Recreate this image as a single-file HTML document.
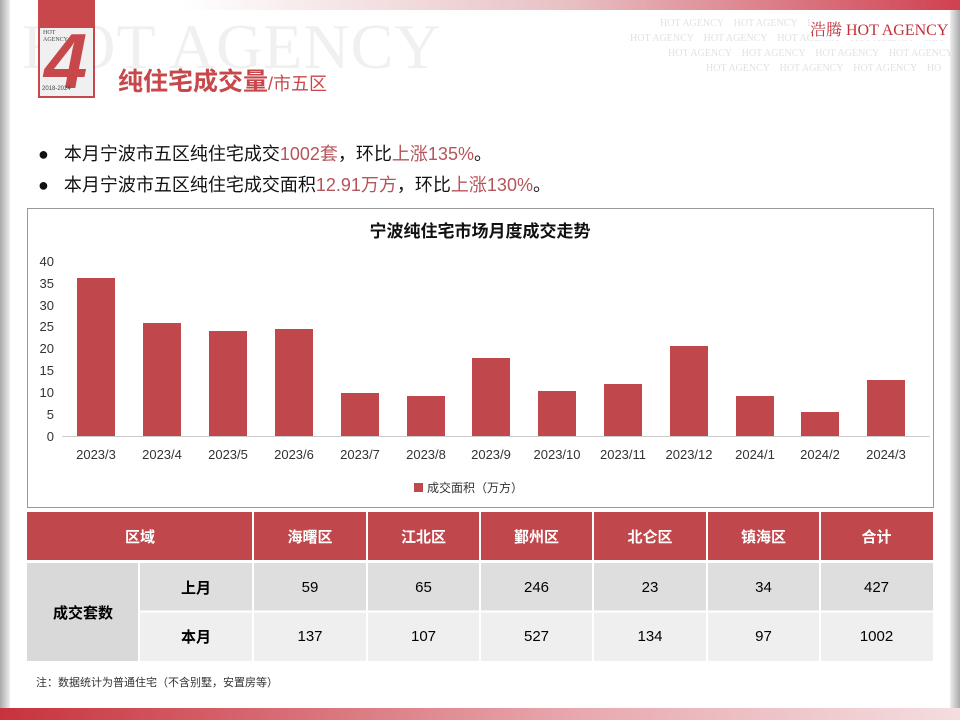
<!DOCTYPE html>
<html><head><meta charset="utf-8"><style>
body{margin:0;width:960px;height:720px;position:relative;overflow:hidden;background:#fff;font-family:"Liberation Sans","Noto Sans CJK SC",sans-serif}
.abs{position:absolute}
.cell{position:absolute;display:flex;align-items:center;justify-content:center;font-size:15px}
</style></head><body>
<div class="abs" style="left:0;top:0;width:10px;height:720px;background:linear-gradient(90deg,#aaa,#eee)"></div>
<div class="abs" style="left:950px;top:0;width:10px;height:720px;background:linear-gradient(90deg,#eee,#aaa)"></div>
<div class="abs" style="left:180px;top:0;width:780px;height:10px;background:linear-gradient(90deg,#fff,#e8c0c4 50%,#d04050)"></div>
<div class="abs" style="left:0;top:708px;width:960px;height:12px;background:linear-gradient(90deg,#c8323c,#e8a8ae 60%,#f4dde0)"></div>
<div class="abs" style="left:22px;top:10px;font-family:'Liberation Serif',serif;font-size:64px;color:#f0f0f0;letter-spacing:1px">HOT AGENCY</div>
<div class="abs" style="left:620px;top:16px;width:330px;height:70px;overflow:hidden;font-family:'Liberation Serif',serif;font-size:10px;color:#e2e2e2;line-height:15px;white-space:nowrap">
<div style="padding-left:40px">HOT AGENCY &nbsp;&nbsp; HOT AGENCY &nbsp;&nbsp; HOT AGENCY &nbsp;&nbsp; HOT AGENCY</div>
<div style="padding-left:10px">HOT AGENCY &nbsp;&nbsp; HOT AGENCY &nbsp;&nbsp; HOT AGENCY &nbsp;&nbsp; HOT AGENCY &nbsp;&nbsp; HOT</div>
<div style="padding-left:48px">HOT AGENCY &nbsp;&nbsp; HOT AGENCY &nbsp;&nbsp; HOT AGENCY &nbsp;&nbsp; HOT AGENCY</div>
<div style="padding-left:86px">HOT AGENCY &nbsp;&nbsp; HOT AGENCY &nbsp;&nbsp; HOT AGENCY &nbsp;&nbsp; HO</div></div>
<div class="abs" style="left:810px;top:17px;font-family:'Liberation Serif','Noto Serif CJK SC',serif;font-size:16px;color:#c0303a;background:#fff">浩腾 HOT AGENCY</div>
<div class="abs" style="left:38px;top:0;width:57px;height:98px;background:#c8474b"></div>
<div class="abs" style="left:40px;top:28px;width:53px;height:68px;background:#f0f0f0"></div>
<div class="abs" style="left:43px;top:30px;font-size:6px;line-height:7px;color:#444;font-family:'Liberation Serif',serif">HOT<br>AGENCY</div>
<div class="abs" style="left:44px;top:22px;font-size:78px;font-weight:bold;font-style:italic;color:#c8474b;line-height:78px">4</div>
<div class="abs" style="left:42px;top:86px;font-size:6px;color:#444">2018-2024</div>
<div class="abs" style="left:118px;top:62px;font-size:25px;font-weight:bold;color:#c8474b">纯住宅成交量<span style="font-size:18px;font-weight:normal;color:#c8474b">/市五区</span></div>
<div class="abs" style="left:38px;top:139px;font-size:18px;color:#111;line-height:31px">
<div>●&nbsp;&nbsp; 本月宁波市五区纯住宅成交<span style="color:#b5545a">1002套</span>，环比<span style="color:#b5545a">上涨135%</span>。</div>
<div>●&nbsp;&nbsp; 本月宁波市五区纯住宅成交面积<span style="color:#b5545a">12.91万方</span>，环比<span style="color:#b5545a">上涨130%</span>。</div></div>
<svg class="abs" style="left:0;top:0" width="960" height="720">
<rect x="27.5" y="208.5" width="906" height="299" fill="#fff" stroke="#999"/>
<text x="480" y="237" text-anchor="middle" font-size="17" font-weight="bold" fill="#111">宁波纯住宅市场月度成交走势</text>
<g font-size="13" fill="#333" text-anchor="end">
<text x="54" y="441">0</text><text x="54" y="419">5</text><text x="54" y="397">10</text><text x="54" y="375">15</text><text x="54" y="353">20</text><text x="54" y="331">25</text><text x="54" y="310">30</text><text x="54" y="288">35</text><text x="54" y="266">40</text></g>
<line x1="62" y1="436.5" x2="930" y2="436.5" stroke="#ccc"/>
<g fill="#c0474b">
<rect x="77" y="278" width="38" height="158"/><rect x="143" y="323" width="38" height="113"/><rect x="209" y="331" width="38" height="105"/><rect x="275" y="329" width="38" height="107"/><rect x="341" y="393" width="38" height="43"/><rect x="407" y="396" width="38" height="40"/><rect x="472" y="358" width="38" height="78"/><rect x="538" y="391" width="38" height="45"/><rect x="604" y="384" width="38" height="52"/><rect x="670" y="346" width="38" height="90"/><rect x="736" y="396" width="38" height="40"/><rect x="801" y="412" width="38" height="24"/><rect x="867" y="380" width="38" height="56"/></g>
<g font-size="13" fill="#333" text-anchor="middle">
<text x="96" y="459">2023/3</text><text x="162" y="459">2023/4</text><text x="228" y="459">2023/5</text><text x="294" y="459">2023/6</text><text x="360" y="459">2023/7</text><text x="426" y="459">2023/8</text><text x="491" y="459">2023/9</text><text x="557" y="459">2023/10</text><text x="623" y="459">2023/11</text><text x="689" y="459">2023/12</text><text x="755" y="459">2024/1</text><text x="820" y="459">2024/2</text><text x="886" y="459">2024/3</text></g>
<rect x="414" y="483" width="9" height="9" fill="#c0474b"/>
<text x="427" y="492" font-size="12" fill="#333">成交面积（万方）</text>
</svg>
<div class="abs" style="left:27px;top:512px;width:906px;height:48px;background:#c0474b"></div>
<div class="abs" style="left:27px;top:563px;width:112px;height:98px;background:#d9d9d9"></div>
<div class="abs" style="left:139px;top:563px;width:794px;height:48px;background:#dedede"></div>
<div class="abs" style="left:139px;top:612px;width:794px;height:49px;background:#efefef"></div>
<svg class="abs" style="left:0;top:0" width="960" height="720"><g stroke="#fff" stroke-width="2">
<line x1="253" y1="512" x2="253" y2="661"/><line x1="367" y1="512" x2="367" y2="661"/><line x1="480" y1="512" x2="480" y2="661"/><line x1="593" y1="512" x2="593" y2="661"/><line x1="707" y1="512" x2="707" y2="661"/><line x1="820" y1="512" x2="820" y2="661"/><line x1="139" y1="563" x2="139" y2="661"/><line x1="139" y1="611.5" x2="933" y2="611.5"/><line x1="27" y1="561.5" x2="933" y2="561.5"/></g></svg>
<div class="cell" style="left:27px;top:512px;width:226px;height:48px;color:#fff;font-weight:bold">区域</div>
<div class="cell" style="left:253px;top:512px;width:114px;height:48px;color:#fff;font-weight:bold">海曙区</div>
<div class="cell" style="left:367px;top:512px;width:113px;height:48px;color:#fff;font-weight:bold">江北区</div>
<div class="cell" style="left:480px;top:512px;width:113px;height:48px;color:#fff;font-weight:bold">鄞州区</div>
<div class="cell" style="left:593px;top:512px;width:114px;height:48px;color:#fff;font-weight:bold">北仑区</div>
<div class="cell" style="left:707px;top:512px;width:113px;height:48px;color:#fff;font-weight:bold">镇海区</div>
<div class="cell" style="left:820px;top:512px;width:113px;height:48px;color:#fff;font-weight:bold">合计</div>
<div class="cell" style="left:27px;top:563px;width:112px;height:98px;font-weight:bold">成交套数</div>
<div class="cell" style="left:139px;top:563px;width:114px;height:48px;font-weight:bold">上月</div>
<div class="cell" style="left:139px;top:612px;width:114px;height:49px;font-weight:bold">本月</div>
<div class="cell" style="left:253px;top:563px;width:114px;height:48px">59</div><div class="cell" style="left:367px;top:563px;width:113px;height:48px">65</div><div class="cell" style="left:480px;top:563px;width:113px;height:48px">246</div><div class="cell" style="left:593px;top:563px;width:114px;height:48px">23</div><div class="cell" style="left:707px;top:563px;width:113px;height:48px">34</div><div class="cell" style="left:820px;top:563px;width:113px;height:48px">427</div>
<div class="cell" style="left:253px;top:612px;width:114px;height:49px">137</div><div class="cell" style="left:367px;top:612px;width:113px;height:49px">107</div><div class="cell" style="left:480px;top:612px;width:113px;height:49px">527</div><div class="cell" style="left:593px;top:612px;width:114px;height:49px">134</div><div class="cell" style="left:707px;top:612px;width:113px;height:49px">97</div><div class="cell" style="left:820px;top:612px;width:113px;height:49px">1002</div>
<div class="abs" style="left:36px;top:674px;font-size:11px;color:#333">注：数据统计为普通住宅（不含别墅，安置房等）</div>
</body></html>
